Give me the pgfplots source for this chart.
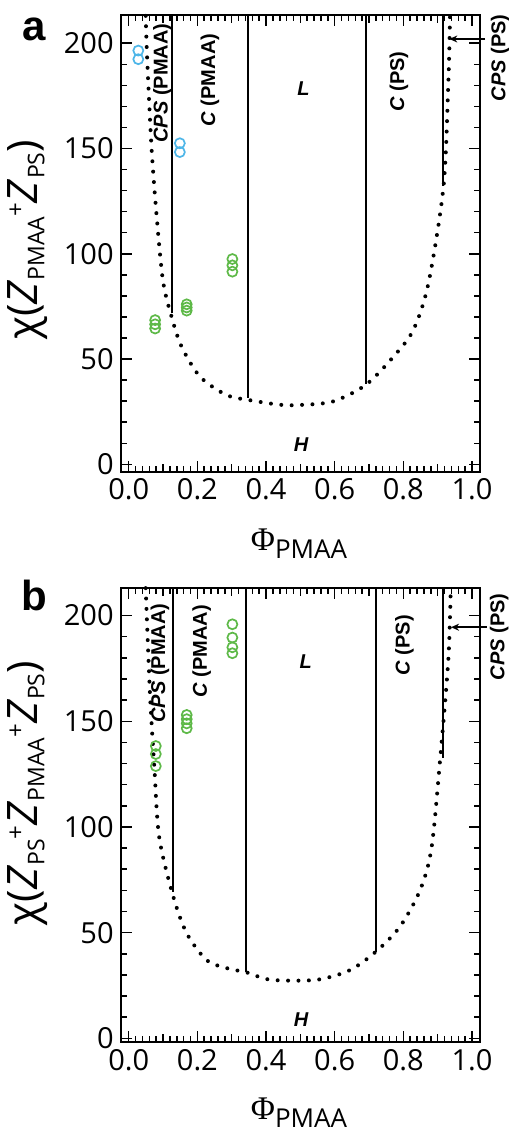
\documentclass[border=0pt]{standalone}
\usepackage{fontspec}
\setmainfont{Open Sans}
\newfontfamily\labfont{Liberation Sans}
\newfontfamily\phifont{Liberation Serif}
\usepackage{pgfplots}
\pgfplotsset{compat=1.18}
\usetikzlibrary{arrows.meta}

\definecolor{ptgreen}{HTML}{5EB948}
\definecolor{ptblue}{HTML}{4EB6E8}

\newcommand{\lsub}[1]{\raisebox{-3.2pt}{\fontsize{11.5}{13}\selectfont #1}}
\newcommand{\lsup}[1]{\raisebox{7pt}{\fontsize{12}{13}\selectfont #1}}
\newcommand{\phase}[2]{{\labfont\bfseries\fontsize{10}{11}\selectfont\textit{#1}~(#2)}}
\newcommand{\single}[1]{{\labfont\bfseries\itshape\fontsize{10}{11}\selectfont #1}}

\pgfplotsset{
  phasediag/.style={
    scale only axis, width=179.65pt,
    xmin=-0.0233, xmax=1.0233,
    xtick={0,0.2,0.4,0.6,0.8,1.0},
    minor x tick num=9,
    extra x ticks={0.1,0.3,0.5,0.7,0.9}, extra x tick labels={},
    extra x tick style={major tick length=4pt},
    ytick={0,50,100,150,200}, minor y tick num=4,
    tick align=inside, major tick length=5.5pt, minor tick length=3pt,
    axis line style={line width=1.1pt},
    every tick/.style={black, line width=0.75pt},
    /pgf/number format/assume math mode=true,
    ticklabel style={font=\fontsize{14.5}{16}\selectfont},
    x tick label style={/pgf/number format/fixed,/pgf/number format/fixed zerofill,/pgf/number format/precision=1},
    clip=false,
  },
  spin/.style={black, line width=2pt, line cap=round, dash pattern=on 0pt off 5.2pt, smooth, tension=0.5},
  bound/.style={black, line width=0.9pt},
  pts/.style={only marks, mark=o, mark size=2.5pt, mark options={line width=0.85pt}},
}

\begin{document}
\begin{tikzpicture}
% ---------- panel a
\begin{axis}[phasediag, at={(60.35pt,-7.5pt)}, anchor=north west,
  height=228.35pt, ymin=-3.5, ymax=213.4]
\addplot[spin] coordinates {(0.0495,213) (0.052,200) (0.057,181) (0.067,149) (0.0815,117.6)
  (0.10,87) (0.125,70) (0.154,55.9) (0.208,41.6) (0.285,32.9) (0.348,30.6) (0.44,28.3)
  (0.50,28.2) (0.596,29.9) (0.691,37.8) (0.771,51.1) (0.829,63.8) (0.873,86) (0.917,132)
  (0.931,181) (0.936,213)};
\addplot[bound] coordinates {(0.125,213.4) (0.125,71.7)};
\addplot[bound] coordinates {(0.348,213.4) (0.348,31.3)};
\addplot[bound] coordinates {(0.691,213.4) (0.691,38.1)};
\addplot[bound] coordinates {(0.915,213.4) (0.915,132)};
\addplot[black, line width=0.9pt, -{Stealth[length=4pt,width=3.5pt]}] coordinates {(1.038,202) (0.934,202)};
\addplot[pts, ptblue] coordinates {(0.028,196.5) (0.028,192.4) (0.149,152.5) (0.149,148.3)};
\addplot[pts, ptgreen] coordinates {(0.077,68.5) (0.077,66.5) (0.077,64.5)
  (0.169,76) (0.169,74.5) (0.169,73) (0.302,97.5) (0.302,94.5) (0.302,91.5)};
\node[rotate=90] at (axis cs:0.098,181) {\phase{CPS}{PMAA}};
\node[rotate=90] at (axis cs:0.237,182.5) {\phase{C}{PMAA}};
\node at (axis cs:0.509,178.6) {\single{L}};
\node[rotate=90] at (axis cs:0.787,181.8) {\phase{C}{PS}};
\node[rotate=90] at (axis cs:1.082,193) {\phase{CPS}{PS}};
\node at (axis cs:0.502,9.2) {\single{H}};
\end{axis}
% ---------- panel b
\begin{axis}[phasediag, at={(60.35pt,-293.85pt)}, anchor=north west,
  height=227.15pt, ymin=-1.75, ymax=213.2]
\addplot[spin] coordinates {(0.0495,213) (0.062,163) (0.0746,128.5) (0.089,95) (0.13,67)
  (0.169,49.7) (0.227,37) (0.29,33) (0.341,31.3) (0.402,28) (0.47,27.3) (0.557,27.9)
  (0.645,32.3) (0.72,41) (0.79,52.8) (0.849,70.2) (0.882,90) (0.907,131.7) (0.931,179)
  (0.938,213)};
\addplot[bound] coordinates {(0.128,213.2) (0.128,69.4)};
\addplot[bound] coordinates {(0.341,213.2) (0.341,31.5)};
\addplot[bound] coordinates {(0.72,213.2) (0.72,41)};
\addplot[bound] coordinates {(0.916,213.2) (0.916,132.5)};
\addplot[black, line width=0.9pt, -{Stealth[length=4pt,width=3.5pt]}] coordinates {(1.043,194.5) (0.939,194.5)};
\addplot[pts, ptgreen] coordinates {(0.079,138.3) (0.079,134.5) (0.079,128.8)
  (0.169,153) (0.169,151) (0.169,149) (0.169,146.7)
  (0.302,195.9) (0.302,189.6) (0.302,185) (0.302,182.2)};
\node[rotate=90] at (axis cs:0.0913,177.5) {\phase{CPS}{PMAA}};
\node[rotate=90] at (axis cs:0.213,183) {\phase{C}{PMAA}};
\node at (axis cs:0.516,178.2) {\single{L}};
\node[rotate=90] at (axis cs:0.803,186) {\phase{C}{PS}};
\node[rotate=90] at (axis cs:1.079,190) {\phase{CPS}{PS}};
\node at (axis cs:0.502,8.7) {\single{H}};
\end{axis}
% ---------- labels
\node at (17pt,-14.5pt) {\labfont\bfseries\fontsize{21}{24}\selectfont a};
\node at (17.25pt,-297.5pt) {\labfont\bfseries\fontsize{21}{24}\selectfont b};
\node[rotate=90] at (14pt,-120pt) {\fontsize{21}{24}\selectfont χ(\textit{Z}\lsub{PMAA}\lsup{+}\textit{Z}\lsub{PS})};
\node[rotate=90] at (14pt,-396.5pt) {\fontsize{21}{24}\selectfont χ(\textit{Z}\lsub{PS}\lsup{+}\textit{Z}\lsub{PMAA}\lsup{+}\textit{Z}\lsub{PS})};
\node at (149.5pt,-271.8pt) {{\phifont\fontsize{16.5}{18}\selectfont Φ}\raisebox{-4pt}{\fontsize{13}{15}\selectfont PMAA}};
\node at (149.5pt,-556.5pt) {{\phifont\fontsize{16.5}{18}\selectfont Φ}\raisebox{-4pt}{\fontsize{13}{15}\selectfont PMAA}};
\pgfresetboundingbox
\path (0,0) rectangle (254pt,-566.5pt);
\end{tikzpicture}
\end{document}
